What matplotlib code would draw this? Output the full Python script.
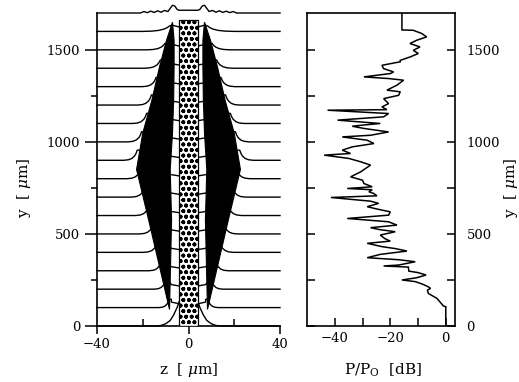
import numpy as np
import matplotlib
matplotlib.use("Agg")
import matplotlib.pyplot as plt
from matplotlib.patches import Polygon, Rectangle
from matplotlib.ticker import FixedLocator

plt.rcParams['font.family'] = ['DejaVu Serif']
plt.rcParams['mathtext.fontset'] = 'dejavuserif'
plt.rcParams['hatch.linewidth'] = 1.2

# ---------------- left panel data ----------------
trace_base = [0, 100, 200, 300, 400, 500, 600, 700, 800, 900,
              1000, 1100, 1200, 1300, 1400, 1500, 1600, 1700]
# bottom trace (k=0): left half of bell (x, height)
bell_x = [-40, -14, -12, -10, -8, -6.5, -5, -4, 0]
bell_h = [0, 0, 3, 12, 30, 60, 100, 135, 200]
# traces k=1..16 : edge of the shoulder, its width, height and height in gap
edge_x = [-8.5, -10.0, -11.8, -13.6, -15.4, -17.2, -19.0, -20.8, -22.4,
          -20.5, -18.3, -16.2, -14.2, -12.3, -10.3, -8.3]
rise_w = [4.5, 5, 5.5, 6, 6, 6, 6, 6, 6, 6, 6, 6, 6, 7, 8, 12]
edge_h = [45, 50, 55, 55, 55, 58, 58, 58, 55, 55, 55, 55, 50, 45, 35, 30]
gap_h = [30, 25, 22, 22, 22, 22, 22, 22, 22, 22, 22, 22, 22, 25, 30, 35]
# shoulder shape template (fraction of width, fraction of height)
shape_fx = [0, 0.35, 0.6, 0.8, 0.92, 1.0]
shape_fy = [0, 0.05, 0.18, 0.42, 0.7, 1.0]
# top trace (k=17): left half
top_x = [-40, -21, -19.5, -18, -16.5, -15, -13.5, -12, -10.5, -9, -8, -7, -6, -5, -4.2, 0]
top_dy = [0, 0, 8, 2, 10, 3, 12, 4, 14, 8, 25, 42, 38, 20, 15, 15]

# black wedge outline (left; right one mirrored)
wedge_y = [90, 575, 850, 1047, 1226, 1405, 1552, 1650]
wedge_outer = [-8.3, -17.4, -22.7, -20.0, -16.0, -12.7, -9.6, -7.0]
wedge_inner = [-8.3, -7.4, -8.0, -7.0, -6.5, -6.3, -6.3, -7.0]

core_half = 4.2
core_top = 1660

# ---------------- right panel data ----------------
pwr_y = [0, 105, 108, 150, 177, 195, 204, 213, 228, 241, 250, 262, 277, 290, 298,
         320, 326, 331, 349, 360, 371, 389, 407, 420, 431, 449, 461, 475, 494, 512,
         524, 534, 548, 566, 584, 602, 620, 636, 648, 666, 678, 698, 707, 720, 729,
         740, 747, 756, 774, 792, 810, 837, 874, 892, 910, 928, 937, 955, 973, 991,
         1009, 1027, 1036, 1054, 1073, 1085, 1091, 1100, 1118, 1136, 1154, 1172, 1175, 1190, 1208,
         1235, 1253, 1272, 1281, 1308, 1335, 1344, 1353, 1371, 1380, 1398, 1416, 1435, 1443, 1461,
         1480, 1497, 1516, 1534, 1552, 1570, 1589, 1606, 1608, 1700]
pwr_db = [0, 0, -0.8, -3.2, -6.3, -6.6, -5.5, -6.3, -8.5, -11.0, -15.8, -10.5, -7.1, -10.0, -13.3,
          -13.5, -22.4, -17.0, -11.0, -17.0, -28.3, -23.6, -14.0, -18.0, -23.0, -28.3, -20.0, -22.0, -23.6, -18.2,
          -24.0, -27.1, -17.6, -20.6, -35.5, -20.6, -20.0, -25.0, -28.3, -24.2, -27.1, -41.4, -24.8, -26.0, -27.7,
          -26.5, -35.5, -26.5, -29.5, -30.0, -34.3, -30.7, -27.1, -30.7, -34.9, -43.8, -34.3, -37.3, -33.7, -25.9,
          -28.3, -37.3, -27.1, -20.6, -29.5, -33.7, -30.0, -23.6, -39.0, -22.4, -20.6, -42.6, -21.2, -23.0, -20.6,
          -22.4, -17.0, -16.4, -21.2, -17.6, -15.2, -20.6, -29.5, -20.0, -18.8, -22.4, -23.0, -16.4, -16.4, -12.9,
          -9.9, -11.7, -9.3, -12.9, -10.5, -6.9, -8.7, -11.7, -15.8, -15.8]

# ---------------- figure ----------------
W, H = 519, 382
fig = plt.figure(figsize=(W / 100, H / 100), dpi=100)
axL = fig.add_axes([97 / W, 56 / H, 183 / W, 313 / H])
axR = fig.add_axes([307 / W, 56 / H, 148.5 / W, 313 / H])

# ---- left panel ----
axL.set_xlim(-40, 40)
axL.set_ylim(0, 1700)


def mirror(xl, yl):
    xl = list(xl)
    yl = list(yl)
    xr = [-v for v in reversed(xl[:-1])]
    yr = list(reversed(yl[:-1]))
    return np.array(xl + xr), np.array(yl + yr)


for k, base in enumerate(trace_base):
    if k == 0:
        xs, ys = mirror(bell_x, bell_h)
    elif k == len(trace_base) - 1:
        xs, ys = mirror(top_x, top_dy)
    else:
        i = k - 1
        ex, rw, h, g = edge_x[i], rise_w[i], edge_h[i], gap_h[i]
        xl = [-40] + [ex - rw + f * rw for f in shape_fx] + [ex + 1.0, -7.5, -core_half, 0]
        yl = [0] + [f * h for f in shape_fy] + [h, g, g * 0.7, g * 0.7]
        xs, ys = mirror(xl, yl)
    axL.plot(xs, base + np.asarray(ys), color='black', lw=1.0, zorder=2, clip_on=False,
             solid_joinstyle='round')

for sgn in (1, -1):
    px = [sgn * v for v in wedge_outer] + [sgn * v for v in reversed(wedge_inner)]
    py = list(wedge_y) + list(reversed(wedge_y))
    axL.add_patch(Polygon(np.column_stack([px, py]), closed=True, facecolor='black',
                          edgecolor='black', lw=0.8, zorder=3))

axL.add_patch(Rectangle((-core_half, 0), 2 * core_half, core_top, facecolor='white',
                        edgecolor='black', hatch='ooo', lw=0.9, zorder=4))

for s in ('top', 'right'):
    axL.spines[s].set_visible(False)
for s in ('left', 'bottom'):
    axL.spines[s].set_linewidth(1.2)

axL.set_xticks([-40, 0, 40])
axL.set_xticklabels(['\u221240', '0', '40'])
axL.xaxis.set_minor_locator(FixedLocator([-20, 20]))
axL.tick_params(axis='x', which='major', direction='out', length=6, width=1.1, pad=3, labelsize=9.5)
axL.tick_params(axis='x', which='minor', direction='in', length=5, width=1.1)
axL.set_yticks([0, 500, 1000, 1500])
axL.yaxis.set_minor_locator(FixedLocator([250, 750, 1250]))
axL.tick_params(axis='y', which='major', direction='out', length=9, width=1.1, pad=3, labelsize=9.5)
axL.tick_params(axis='y', which='minor', direction='out', length=4, width=1.1)

# ---- right panel ----
axR.plot(pwr_db, pwr_y, color='black', lw=1.1, solid_joinstyle='miter')
axR.set_xlim(-50, 3.5)
axR.set_ylim(0, 1700)
for s in axR.spines.values():
    s.set_linewidth(1.2)
axR.set_xticks([-40, -20, 0])
axR.set_xticklabels(['\u221240', '\u221220', '0'])
axR.xaxis.set_minor_locator(FixedLocator([-30, -10]))
axR.tick_params(axis='x', which='both', direction='in', length=6, width=1.1, pad=4, labelsize=9.5,
                top=False)
axR.set_yticks([0, 500, 1000, 1500])
axR.yaxis.set_minor_locator(FixedLocator([250, 750, 1250]))
axR.tick_params(axis='y', which='both', direction='in', length=6, width=1.1, left=True, right=True,
                labelleft=False, labelright=True, pad=8, labelsize=9.5)

# ---- axis titles ----
fig.text(189 / W, 1 - 370 / H, 'z  [ $\\mu$m]', fontsize=11, ha='center', va='center')
fig.text(383 / W, 1 - 370 / H, 'P/P$_{\\mathrm{O}}$  [dB]', fontsize=11, ha='center', va='center')
fig.text(24 / W, 1 - 188 / H, 'y  [ $\\mu$m]', fontsize=11, ha='center', va='center', rotation=90)
fig.text(511 / W, 1 - 188 / H, 'y  [ $\\mu$m]', fontsize=11, ha='center', va='center', rotation=90)

fig.savefig('out.png', dpi=100)
